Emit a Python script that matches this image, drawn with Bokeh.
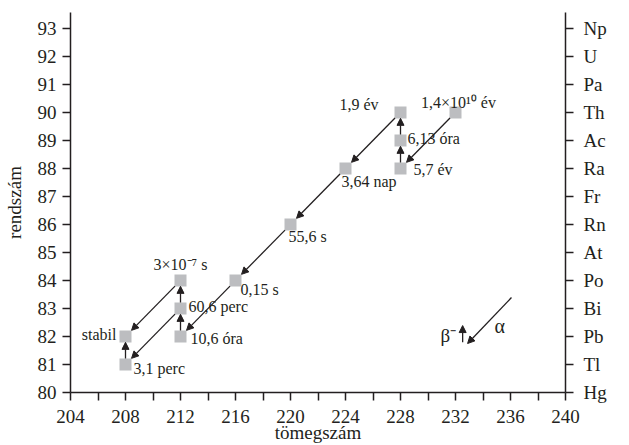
import math
from bokeh.plotting import figure
from bokeh.models import (ColumnDataSource, LinearAxis, FixedTicker, Arrow,
                          NormalHead, Label, Range1d)
from bokeh.core.properties import value
from bokeh.embed import file_html
from bokeh.resources import INLINE

# ---------------- data ----------------
mass_number = [232, 228, 228, 228, 224, 220, 216, 212, 212, 212, 208, 208]
atomic_number = [90, 88, 89, 90, 88, 86, 84, 82, 83, 84, 81, 82]
half_life = ["1,4×10¹⁰ év", "5,7 év", "6,13 óra", "1,9 év", "3,64 nap", "55,6 s",
             "0,15 s", "10,6 óra", "60,6 perc", "3×10⁻⁷ s", "3,1 perc", "stabil"]

# alpha decays: parent (A, Z) -> (A-4, Z-2)
alpha_parent_A = [232, 228, 224, 220, 216, 212, 212]
alpha_parent_Z = [90, 90, 88, 86, 84, 83, 84]
# beta- decays: parent (A, Z) -> (A, Z+1)
beta_parent_A = [228, 228, 212, 212, 208]
beta_parent_Z = [88, 89, 82, 83, 81]

x_tick_labels = [204, 208, 212, 216, 220, 224, 228, 232, 236, 240]
x_minor_ticks = [206, 210, 214, 218, 222, 226, 230, 234, 238]
y_ticks = list(range(80, 94))
element_symbols = ["Hg", "Tl", "Pb", "Bi", "Po", "At", "Rn", "Fr", "Ra", "Ac",
                   "Th", "Pa", "U", "Np"]

# ---------------- layout (label placement, px) ----------------
label_dx = [3, 13, 7, -22, -4, -2, 5, 10, 8, 0, 8, -9]
label_dy = [-10, 1, -2, -8, 13, 12, 9, 2, -2, -16, 4, -2]
label_align = ["center", "left", "left", "right", "left", "left", "left",
               "left", "left", "center", "left", "right"]

INK = "#231f20"
SQUARE = "#bcbdc0"
FONT = "Liberation Serif"

p = figure(width=629, height=445, output_backend="svg", toolbar_location=None,
           x_range=Range1d(204, 240), y_range=Range1d(80, 93.57),
           min_border_left=69, min_border_right=64, min_border_top=12,
           min_border_bottom=53, x_axis_location=None, y_axis_location=None)
p.outline_line_color = None
p.xgrid.visible = False
p.ygrid.visible = False
p.background_fill_color = "white"
p.border_fill_color = "white"


def style_axis(ax, size="19px"):
    ax.axis_line_color = INK
    ax.axis_line_width = 1.5
    ax.major_tick_line_color = INK
    ax.major_tick_line_width = 1.5
    ax.minor_tick_line_color = INK
    ax.minor_tick_line_width = 1.5
    ax.major_tick_in = 0
    ax.major_tick_out = 8
    ax.minor_tick_in = 0
    ax.minor_tick_out = 8
    ax.major_label_text_font = FONT
    ax.major_label_text_font_size = size
    ax.major_label_text_color = INK
    ax.axis_label_text_font = FONT
    ax.axis_label_text_font_size = "19px"
    ax.axis_label_text_font_style = "normal"
    ax.axis_label_text_color = INK


xaxis = LinearAxis(ticker=FixedTicker(ticks=x_tick_labels, minor_ticks=x_minor_ticks),
                   axis_label="tömegszám")
style_axis(xaxis)
xaxis.major_label_standoff = 9
xaxis.axis_label_standoff = -4
p.add_layout(xaxis, "below")

yaxis = LinearAxis(ticker=FixedTicker(ticks=y_ticks), axis_label="rendszám")
style_axis(yaxis)
yaxis.major_label_standoff = 6
yaxis.axis_label_standoff = 10
p.add_layout(yaxis, "left")

raxis = LinearAxis(ticker=FixedTicker(ticks=y_ticks))
style_axis(raxis)
raxis.major_label_standoff = 10
raxis.major_label_overrides = {z: s for z, s in zip(y_ticks, element_symbols)}
p.add_layout(raxis, "right")

p.add_layout(Label(x=240, y=87.6, x_offset=52, text="vegyjel", angle=math.pi / 2,
                   text_align="center", text_baseline="middle", text_font=FONT,
                   text_font_size="19px", text_color=INK))

# ---------------- arrows ----------------
def arrow_source(pa, pz, da, dz, f0, f1):
    x0 = [a + f0 * (b - a) for a, b in zip(pa, da)]
    y0 = [a + f0 * (b - a) for a, b in zip(pz, dz)]
    x1 = [a + f1 * (b - a) for a, b in zip(pa, da)]
    y1 = [a + f1 * (b - a) for a, b in zip(pz, dz)]
    return ColumnDataSource(dict(x0=x0, y0=y0, x1=x1, y1=y1))

alpha_src = arrow_source(alpha_parent_A, alpha_parent_Z,
                         [a - 4 for a in alpha_parent_A], [z - 2 for z in alpha_parent_Z],
                         0.1, 0.89)
beta_src = arrow_source(beta_parent_A, beta_parent_Z,
                        beta_parent_A, [z + 1 for z in beta_parent_Z], 0.21, 0.79)

for src in (alpha_src, beta_src):
    p.add_layout(Arrow(x_start="x0", y_start="y0", x_end="x1", y_end="y1", source=src,
                       line_color=INK, line_width=1.3,
                       end=NormalHead(size=7, fill_color=INK, line_color=INK, line_width=1)))

# ---------------- nuclides ----------------
src = ColumnDataSource(dict(A=mass_number, Z=atomic_number, t=half_life,
                            dx=label_dx, dy=label_dy, al=label_align))
p.scatter("A", "Z", source=src, marker="square", size=12, fill_color=SQUARE,
          line_color=None)
p.text("A", "Z", text="t", source=src, x_offset="dx", y_offset="dy",
       text_align="al", text_baseline="alphabetic", text_font=value(FONT),
       text_font_size="16px", text_color=INK)

# ---------------- key ----------------
key_beta = dict(x=232.52, y0=81.79, y1=82.39)
key_alpha = dict(x0=236.07, y0=83.39, x1=232.88, y1=81.75)
p.add_layout(Arrow(x_start=key_beta["x"], y_start=key_beta["y0"], x_end=key_beta["x"],
                   y_end=key_beta["y1"], line_color=INK, line_width=1.3,
                   end=NormalHead(size=7, fill_color=INK, line_color=INK, line_width=1)))
p.add_layout(Arrow(x_start=key_alpha["x0"], y_start=key_alpha["y0"], x_end=key_alpha["x1"],
                   y_end=key_alpha["y1"], line_color=INK, line_width=1.3,
                   end=NormalHead(size=7, fill_color=INK, line_color=INK, line_width=1)))
p.add_layout(Label(x=232.05, y=82.04, text="β⁻", text_align="right",
                   text_baseline="alphabetic", text_font=FONT, text_font_size="19px",
                   text_color=INK))
p.add_layout(Label(x=234.84, y=82.36, text="α", text_align="left",
                   text_baseline="alphabetic", text_font=FONT, text_font_size="20px",
                   text_color=INK))

open("out.html", "w").write(file_html(p, INLINE))
